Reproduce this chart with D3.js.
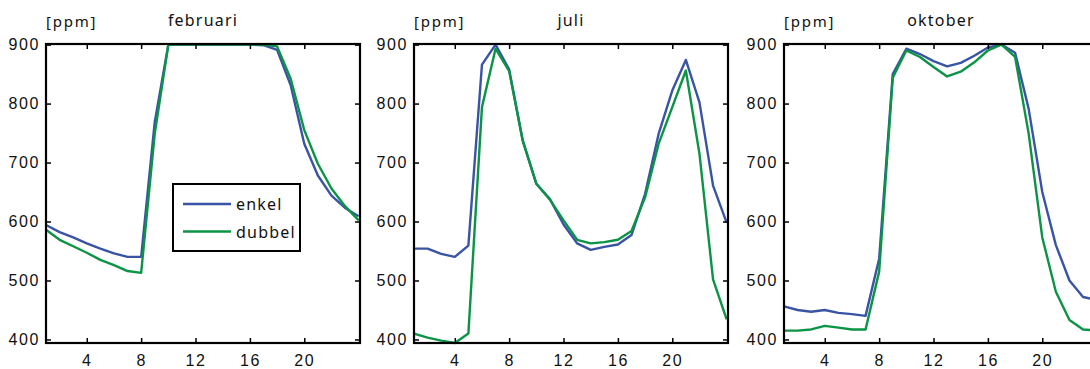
<!DOCTYPE html>
<html>
<head>
<meta charset="utf-8">
<script src="https://cdn.jsdelivr.net/npm/d3@7/dist/d3.min.js"></script>
<style>
  body { margin: 0; background: #fff; }
  svg { font-family: "Noto Sans", "Open Sans", sans-serif; }
  .tick text { font-size: 16px; fill: #111; letter-spacing: 1.6px; }
</style>
</head>
<body>
<svg id="chart" width="1090" height="369"></svg>
<script>
const hours = d3.range(1, 25)
const xTicks = [4, 8, 12, 16, 20]
const yTicks = [400, 500, 600, 700, 800, 900]
const months = ['februari', 'juli', 'oktober']
const seriesNames = ['enkel', 'dubbel']
const seriesColors = ['#3a54a4', '#0b9346']

const febEnkel = [594, 582, 573, 563, 554, 546, 540, 540, 769, 900, 900, 900,
                  900, 900, 900, 900, 899, 891, 831, 732, 678, 644, 623, 609]
const febDubbel = [586, 569, 558, 547, 535, 526, 516, 513, 749, 900, 900, 900,
                   900, 900, 900, 900, 900, 897, 842, 755, 698, 656, 626, 602]
const juliEnkel = [554, 554, 545, 540, 559, 866, 900, 858, 737, 664, 638, 595,
                   563, 552, 557, 561, 577, 647, 749, 822, 874, 802, 661, 598]
const juliDubbel = [410, 403, 398, 394, 410, 794, 893, 855, 737, 664, 637, 602,
                    569, 563, 565, 569, 584, 641, 732, 794, 856, 715, 502, 434]
const oktEnkel = [456, 450, 447, 450, 445, 443, 440, 537, 850, 893, 884, 872,
                  863, 869, 881, 895, 900, 886, 791, 650, 560, 500, 472, 467]
const oktDubbel = [415, 415, 417, 423, 420, 417, 417, 515, 844, 890, 879, 862,
                   846, 854, 870, 890, 900, 879, 749, 573, 481, 433, 417, 415]

const panelData = [[febEnkel, febDubbel], [juliEnkel, juliDubbel], [oktEnkel, oktDubbel]]

const panelLeft = [46, 414, 784]
const panelW = 314
const plotTop = 44, plotBottom = 343
const svg = d3.select('#chart')

months.forEach((month, i) => {
  const g = svg.append('g')
    .attr('transform', `translate(${panelLeft[i]}, ${plotTop})`)
  const h = plotBottom - plotTop

  const x = d3.scaleLinear().domain([1, 24.1]).range([0, panelW])
  const y = d3.scaleLinear().domain([394, 901]).range([h, 0])

  const line = d3.line()
    .x((d, j) => x(hours[j]))
    .y(d => y(d))

  panelData[i].forEach((vals, k) => {
    g.append('path')
      .datum(vals)
      .attr('fill', 'none')
      .attr('stroke', seriesColors[k])
      .attr('stroke-width', 2.4)
      .attr('stroke-linejoin', 'round')
      .attr('d', line)
  })

  // axes, ticks pointing inward
  g.append('g')
    .attr('transform', `translate(0, ${h})`)
    .call(d3.axisBottom(x).tickValues(xTicks).tickSizeInner(-5).tickSizeOuter(0).tickPadding(12))
  g.append('g')
    .call(d3.axisTop(x).tickValues(xTicks).tickSizeInner(-5).tickSizeOuter(0).tickFormat(''))
  g.append('g')
    .call(d3.axisLeft(y).tickValues(yTicks).tickSizeInner(-5).tickSizeOuter(0).tickPadding(6))
  g.append('g')
    .attr('transform', `translate(${panelW}, 0)`)
    .call(d3.axisRight(y).tickValues(yTicks).tickSizeInner(-5).tickSizeOuter(0).tickFormat(''))

  g.selectAll('.domain').remove()
  g.selectAll('.tick line').attr('stroke', '#000').attr('stroke-width', 1.5)

  g.append('rect')
    .attr('width', panelW)
    .attr('height', h)
    .attr('fill', 'none')
    .attr('stroke', '#000')
    .attr('stroke-width', 2.2)

  g.append('text')
    .attr('x', panelW / 2)
    .attr('y', -18)
    .attr('text-anchor', 'middle')
    .attr('font-size', 16)
    .attr('letter-spacing', 1.2)
    .attr('fill', '#111')
    .text(month)

  g.append('text')
    .attr('x', 0)
    .attr('y', -17)
    .attr('font-size', 15)
    .attr('letter-spacing', 1.8)
    .attr('fill', '#111')
    .text('[ppm]')
})

// legend in first panel
const legend = svg.append('g')
legend.append('rect')
  .attr('x', 173).attr('y', 184)
  .attr('width', 127).attr('height', 67)
  .attr('fill', '#fff')
  .attr('stroke', '#000')
  .attr('stroke-width', 2)
seriesNames.forEach((name, k) => {
  const ly = 204 + k * 27.5
  legend.append('line')
    .attr('x1', 183).attr('x2', 231)
    .attr('y1', ly).attr('y2', ly)
    .attr('stroke', seriesColors[k])
    .attr('stroke-width', 2.4)
  legend.append('text')
    .attr('x', 236).attr('y', ly + 6)
    .attr('font-size', 16)
    .attr('letter-spacing', 1.2)
    .attr('fill', '#111')
    .text(name)
})
</script>
</body>
</html>
